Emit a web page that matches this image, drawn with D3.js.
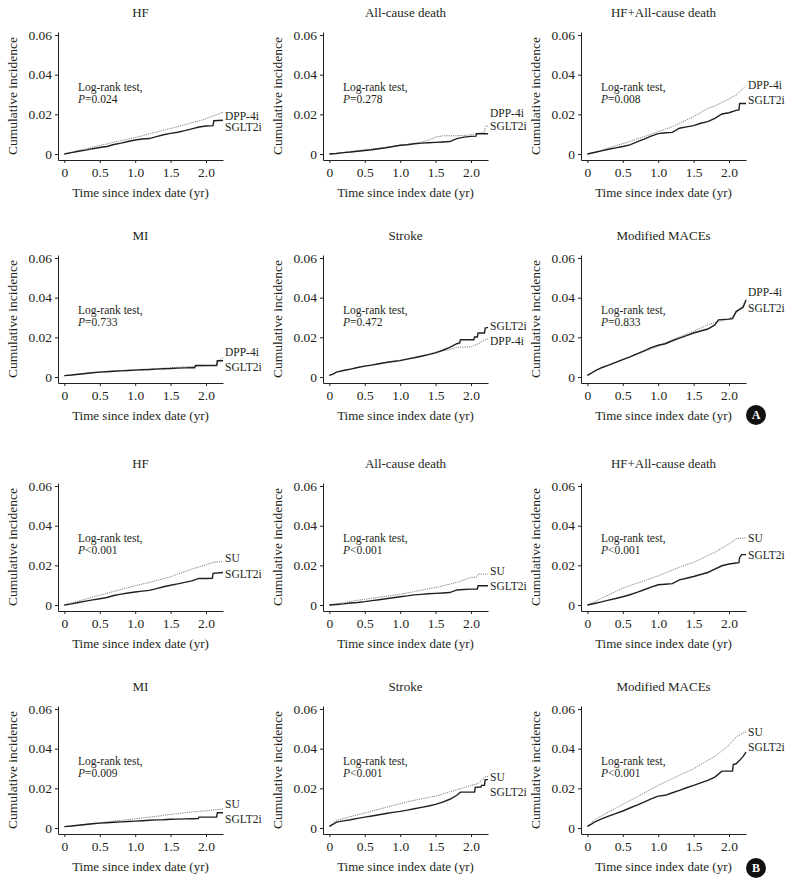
<!DOCTYPE html>
<html><head><meta charset="utf-8">
<script src="https://cdn.jsdelivr.net/npm/d3@7"></script>
<style>
html,body{margin:0;padding:0;background:#fff;}
svg text{font-family:"Liberation Serif","DejaVu Serif",serif;fill:#231f20;}
</style></head>
<body><svg id="chart" width="792" height="882"></svg>
<script>
// ---------- data ----------
const outcomeTitles = ["HF","All-cause death","HF+All-cause death","MI","Stroke","Modified MACEs"];
const comparatorA = "DPP-4i";
const comparatorB = "SU";
const treatment = "SGLT2i";
const pValuesA = ["=0.024","=0.278","=0.008","=0.733","=0.472","=0.833"];
const pValuesB = ["<0.001","<0.001","<0.001","=0.009","<0.001","<0.001"];
const xTicks = [0,0.5,1,1.5,2];
const xTickLabels = ["0","0.5","1.0","1.5","2.0"];
const yTicks = [0,0.02,0.04,0.06];
const yTickLabels = ["0","0.02","0.04","0.06"];
const xLabel = "Time since index date (yr)";
const yLabel = "Cumulative incidence";
const panelTags = ["A","B"];

// Panel A (SGLT2i vs DPP-4i)
const hfA_sglt2 = [[0,0],[0.1,0.0007],[0.2,0.0014],[0.3,0.002],[0.4,0.0027],[0.5,0.0033],[0.6,0.0038],[0.7,0.0048],[0.8,0.0055],[0.9,0.0063],[1.0,0.0071],[1.1,0.0076],[1.2,0.0078],[1.3,0.0088],[1.4,0.0097],[1.5,0.0104],[1.6,0.011],[1.7,0.0118],[1.8,0.0127],[1.9,0.0136],[2.0,0.0141],[2.1,0.0143],[2.11,0.0168],[2.24,0.017]];
const hfA_dpp = [[0,0],[0.1,0.0009],[0.2,0.0018],[0.3,0.0026],[0.4,0.0035],[0.5,0.0043],[0.6,0.0051],[0.7,0.006],[0.8,0.0067],[0.9,0.0075],[1.0,0.0083],[1.1,0.0092],[1.2,0.0102],[1.3,0.0111],[1.4,0.012],[1.5,0.0129],[1.6,0.0138],[1.7,0.0148],[1.8,0.0158],[1.9,0.0166],[2.0,0.0178],[2.1,0.0192],[2.2,0.0206],[2.24,0.021]];
const deathA_sglt2 = [[0,0],[0.1,0.0003],[0.2,0.0007],[0.3,0.001],[0.4,0.0014],[0.5,0.0018],[0.6,0.0022],[0.7,0.0027],[0.8,0.0032],[0.9,0.0038],[1.0,0.0044],[1.1,0.0047],[1.2,0.0052],[1.3,0.0055],[1.4,0.0057],[1.5,0.0059],[1.6,0.0061],[1.7,0.0063],[1.8,0.0078],[1.9,0.0085],[2.0,0.0089],[2.07,0.009],[2.08,0.0102],[2.24,0.0102]];
const deathA_dpp = [[0,0],[0.1,0.0004],[0.2,0.0008],[0.3,0.0013],[0.4,0.0017],[0.5,0.0022],[0.6,0.0026],[0.7,0.003],[0.8,0.0034],[0.9,0.0039],[1.0,0.0044],[1.1,0.0049],[1.2,0.0054],[1.3,0.0059],[1.4,0.007],[1.5,0.0085],[1.6,0.0092],[1.7,0.0092],[1.8,0.0092],[1.9,0.0094],[2.0,0.0097],[2.1,0.0105],[2.19,0.0108],[2.2,0.0139],[2.24,0.0142]];
const hfDeathA_sglt2 = [[0,0],[0.1,0.0008],[0.2,0.0016],[0.3,0.0024],[0.4,0.0031],[0.5,0.0038],[0.6,0.0046],[0.7,0.0061],[0.8,0.0075],[0.9,0.009],[1.0,0.0103],[1.1,0.0107],[1.2,0.0109],[1.3,0.013],[1.4,0.0137],[1.5,0.0143],[1.6,0.0155],[1.7,0.0163],[1.8,0.018],[1.9,0.0202],[2.0,0.0208],[2.1,0.022],[2.14,0.0222],[2.15,0.0255],[2.24,0.0255]];
const hfDeathA_dpp = [[0,0],[0.1,0.001],[0.2,0.002],[0.3,0.0031],[0.4,0.0042],[0.5,0.0052],[0.6,0.0063],[0.7,0.0076],[0.8,0.0088],[0.9,0.01],[1.0,0.0113],[1.1,0.0125],[1.2,0.0138],[1.3,0.0155],[1.4,0.0172],[1.5,0.0188],[1.6,0.0209],[1.7,0.023],[1.8,0.0242],[1.9,0.026],[2.0,0.0278],[2.1,0.0297],[2.2,0.033],[2.24,0.0345]];
const miA_sglt2 = [[0,0.0007],[0.1,0.001],[0.2,0.0014],[0.3,0.0018],[0.4,0.0022],[0.5,0.0025],[0.6,0.0027],[0.7,0.0029],[0.8,0.0031],[0.9,0.0033],[1.0,0.0035],[1.1,0.0037],[1.2,0.0038],[1.3,0.004],[1.4,0.0042],[1.5,0.0043],[1.6,0.0045],[1.7,0.0046],[1.8,0.0047],[1.84,0.0047],[1.85,0.0058],[2.15,0.0058],[2.16,0.0082],[2.24,0.0082]];
const miA_dpp = [[0,0.0007],[0.1,0.001],[0.2,0.0015],[0.3,0.0019],[0.4,0.0023],[0.5,0.0027],[0.6,0.0029],[0.7,0.0031],[0.8,0.0033],[0.9,0.0035],[1.0,0.0037],[1.1,0.0039],[1.2,0.0041],[1.3,0.0043],[1.4,0.0045],[1.5,0.0047],[1.6,0.0049],[1.7,0.0051],[1.8,0.0053],[1.9,0.0055],[2.0,0.0057],[2.1,0.0058],[2.16,0.0058],[2.17,0.0083],[2.2,0.0088],[2.24,0.0097]];
const strokeA_sglt2 = [[0,0.0008],[0.05,0.0015],[0.1,0.0025],[0.2,0.0033],[0.3,0.004],[0.4,0.0048],[0.5,0.0055],[0.6,0.006],[0.7,0.0067],[0.8,0.0073],[0.9,0.0078],[1.0,0.0083],[1.1,0.009],[1.2,0.0097],[1.3,0.0105],[1.4,0.0113],[1.5,0.0122],[1.6,0.0135],[1.7,0.015],[1.8,0.0168],[1.84,0.0172],[1.85,0.0188],[2.04,0.0188],[2.05,0.0202],[2.09,0.0202],[2.1,0.0222],[2.19,0.0222],[2.2,0.0247],[2.24,0.025]];
const strokeA_dpp = [[0,0.0008],[0.05,0.0015],[0.1,0.0025],[0.2,0.0034],[0.3,0.0041],[0.4,0.0049],[0.5,0.0056],[0.6,0.0062],[0.7,0.0068],[0.8,0.0074],[0.9,0.008],[1.0,0.0085],[1.1,0.0092],[1.2,0.0099],[1.3,0.0107],[1.4,0.0116],[1.5,0.0125],[1.6,0.0132],[1.7,0.0138],[1.8,0.015],[1.9,0.0151],[2.0,0.0152],[2.1,0.0167],[2.2,0.0188],[2.24,0.0192]];
const macesA_sglt2 = [[0,0.0008],[0.05,0.0018],[0.1,0.003],[0.2,0.0047],[0.3,0.006],[0.4,0.0074],[0.5,0.0088],[0.6,0.0102],[0.7,0.0117],[0.8,0.0132],[0.9,0.0148],[1.0,0.016],[1.1,0.0168],[1.2,0.0183],[1.3,0.0196],[1.4,0.0209],[1.5,0.0222],[1.6,0.0232],[1.7,0.0242],[1.8,0.0263],[1.85,0.0288],[2.0,0.0292],[2.05,0.0295],[2.1,0.033],[2.2,0.0352],[2.24,0.0388]];
const macesA_dpp = [[0,0.0008],[0.05,0.0018],[0.1,0.003],[0.2,0.0047],[0.3,0.006],[0.4,0.0074],[0.5,0.0088],[0.6,0.0101],[0.7,0.0115],[0.8,0.0128],[0.9,0.0142],[1.0,0.0155],[1.1,0.0171],[1.2,0.0188],[1.3,0.0202],[1.4,0.0216],[1.5,0.023],[1.6,0.0247],[1.7,0.0263],[1.8,0.0275],[1.9,0.0284],[2.0,0.0292],[2.1,0.0322],[2.2,0.0363],[2.24,0.039]];

// Panel B (SGLT2i vs SU)
const hfB_sglt2 = [[0,0],[0.1,0.0006],[0.2,0.0013],[0.3,0.002],[0.4,0.0026],[0.5,0.0032],[0.6,0.0038],[0.7,0.0048],[0.8,0.0055],[0.9,0.0061],[1.0,0.0066],[1.1,0.007],[1.2,0.0074],[1.3,0.0083],[1.4,0.0092],[1.5,0.01],[1.6,0.0107],[1.7,0.0114],[1.8,0.0122],[1.9,0.0134],[2.0,0.0134],[2.09,0.0135],[2.1,0.016],[2.24,0.0164]];
const hfB_su = [[0,0],[0.1,0.001],[0.2,0.002],[0.3,0.003],[0.4,0.004],[0.5,0.0049],[0.6,0.0059],[0.7,0.0069],[0.8,0.0078],[0.9,0.0088],[1.0,0.0097],[1.1,0.0106],[1.2,0.0114],[1.3,0.0124],[1.4,0.0133],[1.5,0.0142],[1.6,0.0156],[1.7,0.0168],[1.8,0.0181],[1.9,0.0192],[2.0,0.0203],[2.1,0.0215],[2.24,0.0219]];
const deathB_sglt2 = [[0,0],[0.1,0.0003],[0.2,0.0006],[0.3,0.001],[0.4,0.0013],[0.5,0.0017],[0.6,0.0022],[0.7,0.0027],[0.8,0.0032],[0.9,0.0037],[1.0,0.0042],[1.1,0.0046],[1.2,0.0051],[1.3,0.0054],[1.4,0.0057],[1.5,0.0059],[1.6,0.0061],[1.7,0.0063],[1.8,0.0076],[1.9,0.0078],[2.0,0.008],[2.09,0.0081],[2.1,0.0097],[2.24,0.0097]];
const deathB_su = [[0,0],[0.1,0.0006],[0.2,0.0012],[0.3,0.0018],[0.4,0.0024],[0.5,0.0029],[0.6,0.0034],[0.7,0.0039],[0.8,0.0044],[0.9,0.0049],[1.0,0.0054],[1.1,0.0061],[1.2,0.0068],[1.3,0.0075],[1.4,0.0082],[1.5,0.0088],[1.6,0.0097],[1.7,0.0105],[1.8,0.0114],[1.9,0.0127],[2.0,0.0139],[2.08,0.0141],[2.1,0.0156],[2.24,0.0156]];
const hfDeathB_sglt2 = [[0,0],[0.1,0.0008],[0.2,0.0016],[0.3,0.0025],[0.4,0.0033],[0.5,0.0042],[0.6,0.0052],[0.7,0.0064],[0.8,0.0077],[0.9,0.009],[1.0,0.0102],[1.1,0.0105],[1.2,0.0108],[1.3,0.0127],[1.4,0.0135],[1.5,0.0144],[1.6,0.0154],[1.7,0.0164],[1.8,0.0181],[1.9,0.0198],[2.0,0.0207],[2.1,0.0212],[2.14,0.0214],[2.15,0.024],[2.18,0.0254],[2.24,0.0254]];
const hfDeathB_su = [[0,0],[0.1,0.0017],[0.2,0.0034],[0.3,0.0051],[0.4,0.0068],[0.5,0.0085],[0.6,0.0098],[0.7,0.011],[0.8,0.0122],[0.9,0.0135],[1.0,0.0147],[1.1,0.0162],[1.2,0.0176],[1.3,0.019],[1.4,0.0203],[1.5,0.0215],[1.6,0.0232],[1.7,0.0249],[1.8,0.0266],[1.9,0.0287],[2.0,0.0308],[2.1,0.0334],[2.24,0.0339]];
const miB_sglt2 = [[0,0.0007],[0.1,0.001],[0.2,0.0014],[0.3,0.0018],[0.4,0.0022],[0.5,0.0025],[0.6,0.0027],[0.7,0.0029],[0.8,0.0031],[0.9,0.0033],[1.0,0.0035],[1.1,0.0037],[1.2,0.0039],[1.3,0.0041],[1.4,0.0042],[1.5,0.0044],[1.6,0.0045],[1.7,0.0046],[1.8,0.0047],[1.89,0.0048],[1.9,0.0055],[2.15,0.0055],[2.16,0.0077],[2.24,0.0077]];
const miB_su = [[0,0.0007],[0.1,0.001],[0.2,0.0014],[0.3,0.0019],[0.4,0.0023],[0.5,0.0027],[0.6,0.0031],[0.7,0.0035],[0.8,0.0039],[0.9,0.0043],[1.0,0.0047],[1.1,0.0051],[1.2,0.0055],[1.3,0.0059],[1.4,0.0064],[1.5,0.0069],[1.6,0.0073],[1.7,0.0077],[1.8,0.0081],[1.9,0.0084],[2.0,0.0087],[2.1,0.0091],[2.2,0.0094],[2.24,0.0097]];
const strokeB_sglt2 = [[0,0.0008],[0.05,0.0018],[0.1,0.003],[0.2,0.0036],[0.3,0.0042],[0.4,0.0049],[0.5,0.0055],[0.6,0.0061],[0.7,0.0067],[0.8,0.0073],[0.9,0.0079],[1.0,0.0084],[1.1,0.009],[1.2,0.0097],[1.3,0.0104],[1.4,0.0111],[1.5,0.0119],[1.6,0.0131],[1.7,0.0145],[1.8,0.0165],[1.85,0.0181],[2.05,0.0181],[2.06,0.0205],[2.14,0.0207],[2.15,0.0215],[2.19,0.0215],[2.2,0.0244],[2.24,0.0244]];
const strokeB_su = [[0,0.0008],[0.05,0.0025],[0.1,0.0039],[0.2,0.0048],[0.3,0.0058],[0.4,0.0067],[0.5,0.0076],[0.6,0.0086],[0.7,0.0095],[0.8,0.0104],[0.9,0.0114],[1.0,0.0123],[1.1,0.0132],[1.2,0.014],[1.3,0.0147],[1.4,0.0154],[1.5,0.0161],[1.6,0.0171],[1.7,0.0182],[1.8,0.0193],[1.9,0.0204],[2.0,0.0215],[2.1,0.0224],[2.2,0.0257],[2.24,0.026]];
const macesB_sglt2 = [[0,0.0008],[0.05,0.0018],[0.1,0.003],[0.2,0.0046],[0.3,0.006],[0.4,0.0073],[0.5,0.0086],[0.6,0.0101],[0.7,0.0116],[0.8,0.0131],[0.9,0.0147],[1.0,0.0161],[1.1,0.0165],[1.2,0.0178],[1.3,0.019],[1.4,0.0203],[1.5,0.0215],[1.6,0.0228],[1.7,0.024],[1.8,0.0257],[1.9,0.0287],[2.05,0.0287],[2.06,0.032],[2.1,0.0324],[2.15,0.0341],[2.2,0.0361],[2.24,0.0383]];
const macesB_su = [[0,0.0008],[0.05,0.0025],[0.1,0.0042],[0.2,0.0061],[0.3,0.0081],[0.4,0.01],[0.5,0.0119],[0.6,0.0138],[0.7,0.0157],[0.8,0.0176],[0.9,0.0196],[1.0,0.0215],[1.1,0.0232],[1.2,0.0249],[1.3,0.0266],[1.4,0.0282],[1.5,0.0299],[1.6,0.032],[1.7,0.0341],[1.8,0.0361],[1.9,0.0389],[2.0,0.0417],[2.1,0.0459],[2.2,0.0479],[2.24,0.0484]];

// label anchor levels (cumulative incidence units): [comparator, SGLT2i]
const labelLevelsA = [[0.0191,0.0136],[0.0205,0.0142],[0.0346,0.0273],[0.0127,0.005],[0.0181,0.0256],[0.0427,0.0348]];
const labelLevelsB = [[0.0236,0.0159],[0.0173,0.0097],[0.0339,0.0254],[0.0122,0.0047],[0.0256,0.0181],[0.0482,0.0407]];

// ---------- layout ----------
const colAxisX = [58, 323, 581];
const rowTopY = [32, 255, 483, 706];
const plotW = 165, plotH = 128;
const xDomain = [-0.09, 2.24], yDomain = [-0.003, 0.0615];

const panels = [];
const setsA = [[hfA_sglt2,hfA_dpp],[deathA_sglt2,deathA_dpp],[hfDeathA_sglt2,hfDeathA_dpp],[miA_sglt2,miA_dpp],[strokeA_sglt2,strokeA_dpp],[macesA_sglt2,macesA_dpp]];
const setsB = [[hfB_sglt2,hfB_su],[deathB_sglt2,deathB_su],[hfDeathB_sglt2,hfDeathB_su],[miB_sglt2,miB_su],[strokeB_sglt2,strokeB_su],[macesB_sglt2,macesB_su]];
[[setsA,pValuesA,labelLevelsA,comparatorA],[setsB,pValuesB,labelLevelsB,comparatorB]].forEach(([sets,pv,lv,comp],g)=>{
  sets.forEach((s,i)=>{
    panels.push({title:outcomeTitles[i], p:pv[i], sglt2:s[0], comp:s[1], compName:comp,
      lvComp:lv[i][0], lvSglt2:lv[i][1], col:i%3, row:g*2+Math.floor(i/3)});
  });
});

const svg = d3.select("#chart");
const ink = "#231f20";

panels.forEach(p=>{
  const x0 = colAxisX[p.col], y0 = rowTopY[p.row];
  const x = d3.scaleLinear().domain(xDomain).range([x0, x0+plotW]);
  const y = d3.scaleLinear().domain(yDomain).range([y0+plotH, y0]);
  const g = svg.append("g");

  // axes
  const xAxis = d3.axisBottom(x).tickValues(xTicks).tickFormat((d,i)=>xTickLabels[i]).tickSize(3).tickSizeOuter(0);
  const yAxis = d3.axisLeft(y).tickValues(yTicks).tickFormat((d,i)=>yTickLabels[i]).tickSize(3).tickSizeOuter(0);
  const gx = g.append("g").attr("transform",`translate(0,${y0+plotH})`).call(xAxis);
  const gy = g.append("g").attr("transform",`translate(${x0},0)`).call(yAxis);
  [gx,gy].forEach(a=>{
    a.select(".domain").attr("stroke",ink).attr("stroke-width",1);
    a.selectAll(".tick line").attr("stroke",ink).attr("stroke-width",1);
    a.selectAll(".tick text").attr("font-family","Liberation Serif, serif").attr("font-size",13.5).attr("fill",ink);
  });
  gx.selectAll(".tick text").attr("y",7);
  gy.selectAll(".tick text").attr("x",-6);

  // title
  g.append("text").attr("x",x0+plotW/2).attr("y",y0-15).attr("text-anchor","middle")
    .attr("font-size",13).text(p.title);
  // axis labels
  g.append("text").attr("x",x0+plotW/2).attr("y",y0+plotH+37).attr("text-anchor","middle")
    .attr("font-size",13).text(xLabel);
  g.append("text").attr("transform",`translate(${x0-46},${y0+plotH/2}) rotate(-90)`)
    .attr("text-anchor","middle").attr("dy","0.35em").attr("font-size",13.5).text(yLabel);

  // log-rank annotation
  const ax = x0+20, zeroY = y(0);
  g.append("text").attr("x",ax).attr("y",zeroY-63).attr("font-size",11.5).text("Log-rank test,");
  const pt = g.append("text").attr("x",ax).attr("y",zeroY-51.5).attr("font-size",11.5);
  pt.append("tspan").attr("font-style","italic").text("P");
  pt.append("tspan").text(p.p);

  // curves
  const line = d3.line().x(d=>x(d[0])).y(d=>y(d[1])).curve(d3.curveLinear);
  g.append("path").datum(p.comp).attr("d",line).attr("fill","none")
    .attr("stroke","#808080").attr("stroke-width",1).attr("stroke-dasharray","1.2,1");
  g.append("path").datum(p.sglt2).attr("d",line).attr("fill","none")
    .attr("stroke",ink).attr("stroke-width",1.4);

  // series labels
  const lx = x(d3.max(p.comp,d=>d[0]))+2;
  g.append("text").attr("x",lx).attr("y",y(p.lvComp)).attr("dy","0.35em").attr("font-size",11.5).text(p.compName);
  g.append("text").attr("x",lx).attr("y",y(p.lvSglt2)).attr("dy","0.35em").attr("font-size",11.5).text(treatment);
});

// panel tags
const tagPos = [[756,415],[756,868]];
panelTags.forEach((t,i)=>{
  const gt = svg.append("g").attr("transform",`translate(${tagPos[i][0]},${tagPos[i][1]})`);
  gt.append("circle").attr("r",10).attr("fill","#111");
  gt.append("text").attr("text-anchor","middle").attr("dy","0.36em")
    .attr("font-family","Liberation Sans, Arial, sans-serif").attr("font-weight","bold")
    .attr("font-size",12).attr("fill","#fff").style("fill","#fff").text(t);
});
</script></body></html>
